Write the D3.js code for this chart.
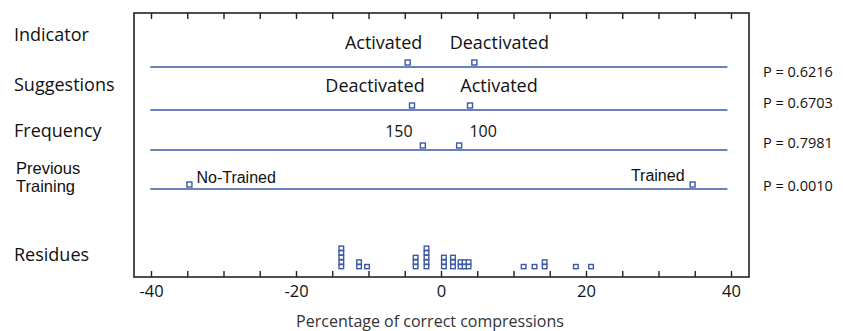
<!DOCTYPE html>
<html>
<head>
<meta charset="utf-8">
<script src="https://cdn.jsdelivr.net/npm/d3@7"></script>
<style>
body { margin: 0; background: #fff; }
svg text { fill: #111; }
</style>
</head>
<body>
<script>
rowNames = ["Indicator", "Suggestions", "Frequency", "Previous Training", "Residues"]
pValues = ["P = 0.6216", "P = 0.6703", "P = 0.7981", "P = 0.0010"]
levelNames = [["Activated", "Deactivated"], ["Deactivated", "Activated"], ["150", "100"], ["No-Trained", "Trained"]]
levelEffects = [[-4.6, 4.6], [-4.0, 4.0], [-2.5, 2.5], [-34.7, 34.7]]
residues = [-13.75, -13.75, -13.75, -13.75, -13.75, -11.3, -11.3, -10.2,
    -3.5, -3.5, -3.5, -2.0, -2.0, -2.0, -2.0, -2.0,
    0.4, 0.4, 0.4, 1.65, 1.65, 1.65, 2.7, 2.7, 3.25, 3.25, 3.8, 3.8,
    11.4, 12.9, 14.3, 14.3, 18.6, 20.7]
xTicks = d3.range(-40, 41, 5)
xLabels = [-40, -20, 0, 20, 40]

// layout
lineY = [67, 110, 150, 189]
nameY = [41, 91, 137, null, 261]
levelLabelY = [49, 92, 137, 183]
labelDx = [[-24, 25], [-37, 29], [-24, 24], [7, -8]]
blue = "#3b58a4"

svg = d3.select("body").append("svg").attr("width", 843).attr("height", 331)
    .style("font-family", "'Open Sans', sans-serif")

x = d3.scaleLinear().domain([-40, 40]).range([151, 731])
box = {left: 134, right: 749, top: 13, bottom: 277}

svg.append("g").attr("transform", "translate(0," + box.bottom + ")")
    .call(d3.axisBottom(x).tickValues(xTicks).tickSizeInner(-6).tickSizeOuter(0)
        .tickFormat(d => xLabels.indexOf(d) >= 0 ? d : ""))
    .call(g => g.select(".domain").remove())
    .call(g => g.selectAll(".tick line").attr("stroke", "#222").attr("stroke-width", 1.4))
    .call(g => g.selectAll(".tick text").attr("y", 8).attr("font-size", 16.5)
        .attr("font-family", "'Open Sans', sans-serif").attr("fill", "#111"))

svg.append("g").attr("transform", "translate(0," + box.top + ")")
    .call(d3.axisTop(x).tickValues(xTicks).tickSizeInner(-6).tickSizeOuter(0).tickFormat(""))
    .call(g => g.select(".domain").remove())
    .call(g => g.selectAll(".tick line").attr("stroke", "#222").attr("stroke-width", 1.4))

svg.append("rect").attr("x", box.left).attr("y", box.top)
    .attr("width", box.right - box.left).attr("height", box.bottom - box.top)
    .attr("fill", "none").attr("stroke", "#222").attr("stroke-width", 1.6)

// row names on the left
rowNames.forEach(function(name, i) {
    if (i == 3) {
        t = svg.append("text").attr("x", 16).attr("font-size", 16.5)
            .style("font-family", "'Liberation Sans', Arial, sans-serif")
        t.append("tspan").attr("x", 16).attr("y", 174).text("Previous")
        t.append("tspan").attr("x", 16).attr("y", 192).text("Training")
    } else {
        svg.append("text").attr("x", 14).attr("y", nameY[i]).attr("font-size", 18).text(name)
    }
})

// effect lines, squares and level names
levelEffects.forEach(function(eff, i) {
    svg.append("line").attr("x1", x(-40.1)).attr("x2", x(39.5))
        .attr("y1", lineY[i]).attr("y2", lineY[i])
        .attr("stroke", blue).attr("stroke-width", 1.4)

    svg.selectAll(".sq" + i).data(eff).enter().append("rect")
        .attr("x", d => x(d) - 2.5).attr("y", lineY[i] - 7)
        .attr("width", 5).attr("height", 5)
        .attr("fill", "#fff").attr("stroke", blue).attr("stroke-width", 1.4)

    arial = i == 3
    svg.selectAll(".lv" + i).data(eff).enter().append("text")
        .attr("x", (d, j) => x(d) + labelDx[i][j])
        .attr("y", (d, j) => levelLabelY[i] - (arial && j == 1 ? 2 : 0))
        .attr("text-anchor", (d, j) => arial ? (j == 0 ? "start" : "end") : "middle")
        .attr("font-size", arial ? 16 : (i == 2 ? 16 : 18))
        .style("font-family", arial ? "'Liberation Sans', Arial, sans-serif" : null)
        .text((d, j) => levelNames[i][j])

    svg.append("text").attr("x", 763).attr("y", lineY[i] + [10, -2, -2, 2][i])
        .attr("font-size", 14.5).text(pValues[i])
})

// residues as stacked squares
counts = {}
resPts = residues.map(function(r) {
    counts[r] = (counts[r] || 0) + 1
    return {v: r, k: counts[r] - 1}
})
svg.selectAll(".res").data(resPts).enter().append("rect")
    .attr("x", d => x(d.v) - 2.3)
    .attr("y", d => 264.5 - d.k * 4.6)
    .attr("width", 4.6).attr("height", 4.2)
    .attr("fill", "#fff").attr("stroke", blue).attr("stroke-width", 1.4)

svg.append("text").attr("x", 430).attr("y", 327).attr("text-anchor", "middle")
    .attr("font-size", 16).style("fill", "#333").text("Percentage of correct compressions")
</script>
</body>
</html>
